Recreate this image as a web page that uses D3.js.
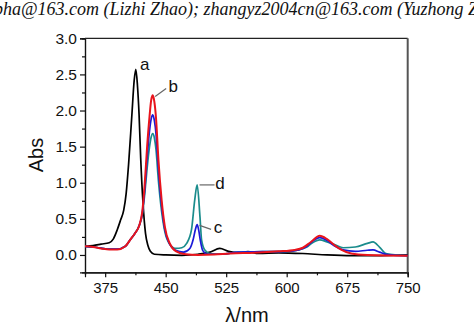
<!DOCTYPE html>
<html><head><meta charset="utf-8">
<script src="https://cdn.jsdelivr.net/npm/d3@7"></script>
<style>html,body{margin:0;padding:0;background:#fff;}svg{display:block;}</style>
</head><body>
<svg id="chart" width="474" height="328"></svg>
<script>
// ---- data ----
const headerText = "bha@163.com (Lizhi Zhao); zhangyz2004cn@163.com (Yuzhong Zhang)";
const xTicks = [375, 450, 525, 600, 675, 750];
const yTicks = [0.0, 0.5, 1.0, 1.5, 2.0, 2.5, 3.0];
const xLabel = "λ/nm";
const yLabel = "Abs";

const waveA = [350,360,370,380,385,390,394,398,401,404,408,411,413,415,417,419,422,425,428,431,436,450,470,490,505,517,528,540,552,565,590,620,650,680,710,750];
const absA  = [0.12,0.13,0.15,0.17,0.22,0.35,0.48,0.62,0.85,1.25,1.92,2.42,2.57,2.35,1.95,1.35,0.70,0.30,0.13,0.05,0.01,0.0,-0.005,0.01,0.04,0.09,0.05,0.03,0.045,0.02,0.03,0.02,0.0,-0.01,-0.01,0.0];

const waveB = [350,360,370,380,390,400,406,412,417,421,424,427,430,432,434,436,438,441,445,449,455,463,475,490,510,530,560,590,610,620,630,641,650,660,668,680,700,750];
const absB  = [0.12,0.11,0.09,0.075,0.075,0.12,0.21,0.30,0.40,0.60,0.98,1.50,1.92,2.14,2.21,2.12,1.90,1.32,0.76,0.39,0.16,0.05,0.01,0.0,0.005,0.02,0.03,0.05,0.07,0.10,0.18,0.265,0.22,0.13,0.07,0.02,0.0,-0.01];

const waveC = [350,360,370,380,390,400,406,412,417,421,424,427,430,432,434,436,438,441,445,449,455,463,472,480,484,487,489,491,493,496,502,520,540,570,600,615,625,632,641,650,660,670,685,700,707,715,725,750];
const absC  = [0.12,0.11,0.095,0.08,0.08,0.12,0.21,0.30,0.40,0.58,0.90,1.35,1.72,1.88,1.94,1.86,1.68,1.18,0.68,0.35,0.15,0.06,0.04,0.09,0.21,0.36,0.42,0.34,0.20,0.06,0.01,0.01,0.04,0.045,0.05,0.07,0.12,0.19,0.24,0.20,0.12,0.07,0.05,0.065,0.07,0.04,0.005,-0.01];

const waveD = [350,360,370,380,390,400,406,412,417,421,424,427,430,432,434,436,438,441,445,449,455,463,470,476,482,486,489,492.5,494.5,498.5,505,520,540,570,600,615,625,632,641,650,660,670,685,700,707,715,723,750];
const absD  = [0.12,0.11,0.095,0.08,0.08,0.12,0.21,0.30,0.40,0.56,0.84,1.20,1.50,1.63,1.68,1.62,1.46,1.03,0.60,0.32,0.15,0.09,0.10,0.16,0.35,0.76,0.97,0.53,0.21,0.07,0.02,0.01,0.04,0.045,0.05,0.07,0.11,0.17,0.21,0.18,0.14,0.10,0.11,0.16,0.18,0.11,0.02,-0.01];

const seriesNames = ["a","b","c","d"];
const seriesColors = ["#000000","#e8141c","#1a1ad8","#1a8c8c"];
// label anchor points (data coordinates of the peak each label points to)
const labelWave = [413, 434.5, 489.5, 489.5];
const labelAbs  = [2.57, 2.18, 0.41, 0.97];

// ---- layout ----
const svg = d3.select("#chart");
const L = 85, R = 407.7, T = 38.3, B = 272.3;
const x = d3.scaleLinear().domain([350, 750]).range([L, R]);
const y = d3.scaleLinear().domain([-0.24, 3.0]).range([B, T]);
const font = "'Liberation Sans', Arial, sans-serif";

// header
svg.append("text").attr("x", -6).attr("y", 15)
  .attr("font-family", "'Liberation Serif', 'Times New Roman', serif")
  .attr("font-style", "italic").attr("font-size", 18).attr("fill", "#111")
  .text(headerText);

const xMinor = xTicks.map(v => v - 37.5).filter(v => v > 350);
const yMinor = yTicks.map(v => v - 0.25).filter(v => v > -0.24);

// x axis
const gx = svg.append("g").attr("transform", `translate(0,${B})`);
gx.call(d3.axisBottom(x).tickValues(xTicks).tickSize(5).tickPadding(5).tickFormat(d3.format("d")));
gx.append("g").call(d3.axisBottom(x).tickValues(xMinor).tickSize(3).tickFormat(""));
gx.selectAll(".domain").attr("stroke", "#111").attr("stroke-width", 1.2);
gx.selectAll("line").attr("stroke", "#111").attr("stroke-width", 1.2);
gx.selectAll("text").attr("font-family", font).attr("font-size", 15).attr("fill", "#111");

// y axis
const gy = svg.append("g").attr("transform", `translate(${L},0)`);
gy.call(d3.axisLeft(y).tickValues(yTicks).tickSize(5).tickPadding(3).tickFormat(d3.format(".1f")));
gy.append("g").call(d3.axisLeft(y).tickValues(yMinor).tickSize(3).tickFormat(""));
gy.selectAll(".domain").attr("stroke", "#111").attr("stroke-width", 1.2);
gy.selectAll("line").attr("stroke", "#111").attr("stroke-width", 1.2);
gy.selectAll("text").attr("font-family", font).attr("font-size", 15.5).attr("fill", "#111");

// frame top and right
svg.append("line").attr("x1", L).attr("x2", R).attr("y1", T).attr("y2", T).attr("stroke", "#222").attr("stroke-width", 1.2);
svg.append("line").attr("x1", R).attr("x2", R).attr("y1", T).attr("y2", B).attr("stroke", "#555").attr("stroke-width", 2);

// axis titles
svg.append("text").attr("x", 247).attr("y", 322).attr("text-anchor", "middle")
  .attr("font-family", font).attr("font-size", 20).attr("fill", "#111").text(xLabel);
svg.append("text").attr("transform", "translate(43,155) rotate(-90)").attr("text-anchor", "middle")
  .attr("font-family", font).attr("font-size", 20).attr("fill", "#111").text(yLabel);

// curves
const line = d3.line().x(d => x(d[0])).y(d => y(d[1])).curve(d3.curveMonotoneX);
const data = [d3.zip(waveA, absA), d3.zip(waveB, absB), d3.zip(waveC, absC), d3.zip(waveD, absD)];
const drawOrder = [0, 3, 2, 1];
const plot = svg.append("g");
drawOrder.forEach(i => {
  plot.append("path").datum(data[i]).attr("d", line)
    .attr("fill", "none").attr("stroke", seriesColors[i])
    .attr("stroke-width", i === 1 ? 2 : 1.7).attr("stroke-linejoin", "round");
});

// labels: text offset and leader offsets (pixels relative to the anchor point)
const labelStyle = [
  {tx: 9,  ty: 1,   lead: null},
  {tx: 20, ty: -6,  lead: [2, -1, 13, -9]},
  {tx: 20.5, ty: 7.6, lead: [2, 0, 13.5, 4]},
  {tx: 22.5, ty: 4.5, lead: [2, 0, 17, 0]}
];
seriesNames.forEach((name, i) => {
  const x0 = x(labelWave[i]), y0 = y(labelAbs[i]);
  const s = labelStyle[i];
  if (s.lead) {
    svg.append("line").attr("x1", x0 + s.lead[0]).attr("y1", y0 + s.lead[1])
      .attr("x2", x0 + s.lead[2]).attr("y2", y0 + s.lead[3])
      .attr("stroke", "#666").attr("stroke-width", 1.2);
  }
  svg.append("text").attr("x", x0 + s.tx).attr("y", y0 + s.ty)
    .attr("text-anchor", "middle").attr("font-family", font).attr("font-size", 17).attr("fill", "#111")
    .text(name);
});
</script>
</body></html>
